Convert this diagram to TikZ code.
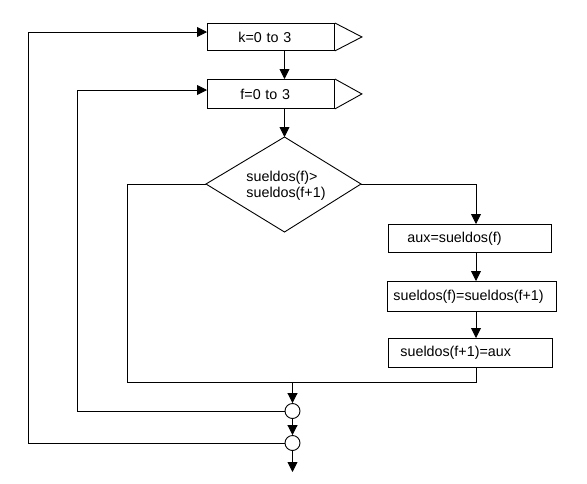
\documentclass[tikz,border=0pt]{standalone}
\usepackage{fontspec}
\setmainfont{Liberation Sans}
\usetikzlibrary{arrows.meta,calc}
\begin{document}
\begin{tikzpicture}[x=1pt,y=-1pt,
  line width=0.9pt,
  every node/.style={font=\fontsize{14.3}{16}\selectfont},
  arr/.style={-{Triangle[width=10pt,length=10pt]}},
  procbox/.style={draw, rectangle, inner ysep=0pt, align=left, anchor=north west},
  loopbox/.style={draw, rectangle, inner ysep=0pt, align=left, anchor=north west},
  joint/.style={draw, circle, minimum size=15pt, inner sep=0pt, fill=white}]
\useasboundingbox (0,0) rectangle (587,483);
% loop boxes
\node[loopbox, minimum height=27pt, text width=65pt, inner xsep=31pt] (k) at (207,23) {k=0 to 3};
\draw (k.north east) -- ($(k.east)+(27,0)$) -- (k.south east);
\node[loopbox, minimum height=29pt, text width=61pt, inner xsep=33pt] (f) at (207,79) {f=0 to 3};
\draw (f.north east) -- ($(f.east)+(27,0)$) -- (f.south east);
% diamond
\coordinate (dtop) at (284.5,137);
\coordinate (dright) at (361,184);
\coordinate (dbot) at (284.5,232);
\coordinate (dleft) at (206,184);
\draw (dtop) -- (dright) -- (dbot) -- (dleft) -- cycle;
\node[align=left, inner sep=0pt] (cond) at (286,186) {sueldos(f)>\\sueldos(f+1)};
% process boxes
\node[procbox, minimum height=28pt, text width=125pt, inner xsep=19pt] (aux) at (388,224) {aux=sueldos(f)};
\node[procbox, minimum height=30pt, text width=157pt, inner xsep=6pt] (mid) at (387,281) {sueldos(f)=sueldos(f+1)};
\node[procbox, minimum height=29pt, text width=140pt, inner xsep=12pt] (bot) at (388,338) {sueldos(f+1)=aux};
% joints
\node[joint] (c1) at (292.5,411) {};
\node[joint] (c2) at (292.5,443) {};
\coordinate (ax) at (284.5,0);
\coordinate (rx) at (476,0);
\coordinate (join) at (292.5,382);
\coordinate (lx) at (127,382);
\coordinate (fl1) at (77,411);
\coordinate (fl2) at (77,90);
\coordinate (kl1) at (28,443);
\coordinate (kl2) at (28,32);
\coordinate (endp) at (292.5,472);
% connectors
\draw[arr] (ax |- k.south) -- (ax |- f.north);
\draw[arr] (ax |- f.south) -- (dtop);
\draw[arr] (dright) -| (rx |- aux.north);
\draw[arr] (rx |- aux.south) -- (rx |- mid.north);
\draw[arr] (rx |- mid.south) -- (rx |- bot.north);
\draw (rx |- bot.south) -- (rx |- join) -- (lx) -- (lx |- dleft) -- (dleft);
\draw[arr] (join) -- (c1.north);
\draw[arr] (c1.south) -- (c2.north);
\draw[arr] (c2.south) -- (endp);
\draw[arr] (c1.west) -- (fl1) -- (fl2) -- (fl2 -| f.west);
\draw[arr] (c2.west) -- (kl1) -- (kl2) -- (kl2 -| k.west);
\end{tikzpicture}
\end{document}
